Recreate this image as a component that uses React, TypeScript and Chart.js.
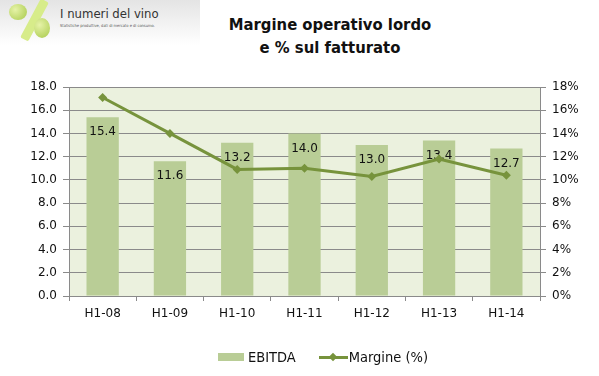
import React, { useEffect, useRef } from "react";
import { Chart, registerables } from "chart.js";

Chart.register(...registerables);

const categories = ["H1-08", "H1-09", "H1-10", "H1-11", "H1-12", "H1-13", "H1-14"];
const ebitda = [15.4, 11.6, 13.2, 14.0, 13.0, 13.4, 12.7];
const margine = [17.1, 14.0, 10.9, 11.0, 10.3, 11.8, 10.4];
const leftTicks = { min: 0, max: 18, step: 2 };
const rightTicks = { min: 0, max: 18, step: 2 };
const titleLines = ["Margine operativo lordo", "e % sul fatturato"];
const seriesNames = ["EBITDA", "Margine (%)"];

const BAR_COLOR = "#b9cd96";
const LINE_COLOR = "#77933c";
const PLOT_BG = "#ebf1de";
const GRID = "#8a8a8a";
const TICK_FONT = { family: "'DejaVu Sans', Verdana, sans-serif", size: 12 };

const barLabels = {
  id: "barLabels",
  afterDatasetDraw(chart: any, args: any) {
    if (args.index !== 0) return;
    const { ctx } = chart;
    const meta = args.meta;
    ctx.save();
    ctx.fillStyle = "#111";
    ctx.font = "12px 'DejaVu Sans', Verdana, sans-serif";
    ctx.textAlign = "center";
    ctx.textBaseline = "middle";
    meta.data.forEach((el: any, i: number) => {
      ctx.fillText(ebitda[i].toFixed(1), el.x, el.y + 15);
    });
    ctx.restore();
  },
};

const plotBgBeforeGrid = {
  id: "plotBgGrid",
  beforeDraw(chart: any) {
    const { ctx, chartArea } = chart;
    if (!chartArea) return;
    ctx.save();
    ctx.fillStyle = PLOT_BG;
    ctx.fillRect(chartArea.left, chartArea.top, chartArea.right - chartArea.left, chartArea.bottom - chartArea.top);
    ctx.restore();
  },
};

export default function App() {
  const ref = useRef<HTMLCanvasElement | null>(null);

  useEffect(() => {
    document.body.style.margin = "0";
    const chart = new Chart(ref.current as HTMLCanvasElement, {
      type: "bar",
      data: {
        labels: categories,
        datasets: [
          {
            type: "bar",
            label: seriesNames[0],
            data: ebitda,
            backgroundColor: BAR_COLOR,
            yAxisID: "y",
            order: 1,
            categoryPercentage: 1,
            barPercentage: 0.48,
          },
          {
            type: "line",
            label: seriesNames[1],
            data: margine,
            borderColor: LINE_COLOR,
            backgroundColor: LINE_COLOR,
            borderWidth: 3,
            pointStyle: "rectRot",
            pointRadius: 4.5,
            pointBorderWidth: 0,
            yAxisID: "y1",
            order: 0,
            tension: 0,
          },
        ],
      },
      options: {
        animation: false,
        responsive: false,
        maintainAspectRatio: false,
        layout: { padding: { top: 87, left: 0, right: 0, bottom: 50 } },
        plugins: {
          legend: { display: false },
          title: { display: false },
          tooltip: { enabled: false },
        },
        scales: {
          x: {
            grid: { display: true, drawOnChartArea: false, drawTicks: true, tickLength: 5, color: GRID, offset: true },
            border: { color: GRID },
            ticks: { color: "#111", font: TICK_FONT, padding: 6 },
            afterFit: (s: any) => { s.height = 30; },
          },
          y: {
            position: "left",
            min: leftTicks.min,
            max: leftTicks.max,
            grid: { color: GRID, tickLength: 6 },
            border: { color: GRID },
            ticks: {
              stepSize: leftTicks.step,
              color: "#111",
              font: TICK_FONT,
              padding: 6,
              callback: (v: any) => Number(v).toFixed(1),
            },
            afterFit: (s: any) => { s.width = 69; },
          },
          y1: {
            position: "right",
            min: rightTicks.min,
            max: rightTicks.max,
            grid: { drawOnChartArea: false, color: GRID, tickLength: 6 },
            border: { color: GRID },
            ticks: {
              stepSize: rightTicks.step,
              color: "#111",
              font: TICK_FONT,
              padding: 6,
              callback: (v: any) => `${v}%`,
            },
            afterFit: (s: any) => { s.width = 59; },
          },
        },
      },
      plugins: [plotBgBeforeGrid, barLabels],
    } as any);
    return () => chart.destroy();
  }, []);

  const narrow = "'DejaVu Sans Condensed', 'Liberation Sans Narrow', 'Liberation Sans', Arial, sans-serif";

  return (
    <div style={{ position: "relative", width: 599, height: 376, background: "#fff", overflow: "hidden" }}>
      {/* logo band */}
      <div style={{ position: "absolute", left: 0, top: 0, width: 200, height: 45, background: "linear-gradient(#e4e4e4, #ffffff)" }} />
      <div style={{ position: "absolute", left: 30, top: -2, width: 9, height: 44, background: "#d7ec8a", transform: "rotate(28deg)", borderRadius: 2 }} />
      <div style={{ position: "absolute", left: 9, top: 4, width: 18, height: 16, borderRadius: "50%", background: "radial-gradient(circle at 35% 35%, #e6f3a8, #a8c94a)" }} />
      <div style={{ position: "absolute", left: 34, top: 18, width: 16, height: 20, borderRadius: "50%", background: "radial-gradient(circle at 35% 35%, #e6f3a8, #a8c94a)" }} />
      <div style={{ position: "absolute", left: 60, top: 6, fontFamily: narrow, fontSize: 13, color: "#333", whiteSpace: "nowrap" }}>I numeri del vino</div>
      <div style={{ position: "absolute", left: 60, top: 23, fontFamily: narrow, fontSize: 4, color: "#555", whiteSpace: "nowrap" }}>Statistiche produttive, dati di mercato e di consumo.</div>

      {/* title */}
      <div style={{ position: "absolute", left: 180, width: 300, top: 13, textAlign: "center", fontFamily: narrow, fontWeight: "bold", fontSize: 16.5, lineHeight: "23px", color: "#111" }}>
        {titleLines.map((t) => (<div key={t}>{t}</div>))}
      </div>

      <canvas ref={ref} width={599} height={376} style={{ position: "absolute", left: 0, top: 0, width: 599, height: 376 }} />

      {/* legend */}
      <div style={{ position: "absolute", left: 218, top: 349, display: "flex", alignItems: "center", fontFamily: narrow, fontSize: 14.5, color: "#111", whiteSpace: "nowrap" }}>
        <div style={{ display: "flex", alignItems: "center" }}>
          <span style={{ display: "inline-block", width: 26, height: 8, background: BAR_COLOR, marginRight: 4 }} />
          <span>{seriesNames[0]}</span>
        </div>
        <div style={{ display: "flex", alignItems: "center", marginLeft: 23 }}>
          <span style={{ position: "relative", display: "inline-block", width: 29, height: 10, marginRight: 1 }}>
            <span style={{ position: "absolute", left: 0, top: 4, width: 29, height: 3, background: LINE_COLOR }} />
            <span style={{ position: "absolute", left: 11, top: 2, width: 6, height: 6, background: LINE_COLOR, transform: "rotate(45deg)" }} />
          </span>
          <span>{seriesNames[1]}</span>
        </div>
      </div>
    </div>
  );
}
